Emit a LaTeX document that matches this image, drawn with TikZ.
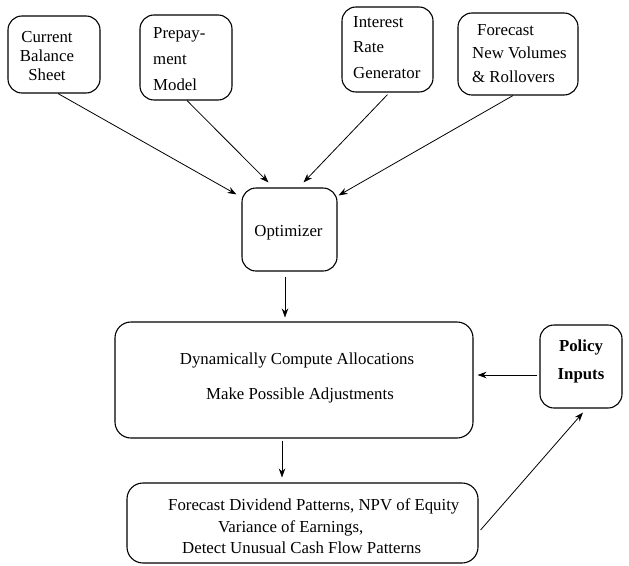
\documentclass[tikz,border=0pt]{standalone}
\usepackage{fontspec}
\setmainfont{LiberationSerif}[Extension=.ttf, UprightFont=*-Regular, BoldFont=*-Bold, ItalicFont=*-Italic, BoldItalicFont=*-BoldItalic]
\usetikzlibrary{arrows.meta}
\begin{document}
\begin{tikzpicture}[x=1pt,y=-1pt,
  box/.style={draw, line width=1.1pt, rounded corners=14pt, inner sep=0pt, shape=rectangle},
  txt/.style={inner sep=0pt, font=\rmfamily\fontsize{16.8}{20}\selectfont},
  arr/.style={line width=0.8pt, -{Stealth[length=9pt,width=6.5pt]}}
]
\useasboundingbox (0,0) rectangle (629,565);

% boxes
\node[box, minimum width=92pt, minimum height=77pt]  (cbs)  at (54,54.5) {};
\node[box, minimum width=92pt, minimum height=85pt]  (ppm)  at (186,57.5) {};
\node[box, minimum width=91pt, minimum height=85pt]  (irg)  at (387.5,49.5) {};
\node[box, minimum width=120pt, minimum height=82pt] (fnv)  at (518,54) {};
\node[box, minimum width=95pt, minimum height=83pt]  (opt)  at (289.5,229.5) {};
\node[box, minimum width=358pt, minimum height=116pt, rounded corners=16pt] (main) at (294,380) {};
\node[box, minimum width=82pt, minimum height=83pt]  (pol)  at (581,366.5) {};
\node[box, minimum width=351pt, minimum height=80pt, rounded corners=16pt] (out) at (302.5,523) {};

% texts
\node[txt, align=center, font=\rmfamily\fontsize{16.8}{19}\selectfont] (cbst) at (47,56) {Current\\Balance\\Sheet};
\node[txt, align=left, anchor=west, font=\rmfamily\fontsize{16.8}{26}\selectfont] (ppmt) at (153,59) {Prepay-\\ment\\Model};
\node[txt, align=left, anchor=west, font=\rmfamily\fontsize{16.8}{25.5}\selectfont] (irgt) at (353,47.5) {Interest\\Rate\\Generator};
\node[txt, align=left, anchor=west, font=\rmfamily\fontsize{16.8}{23.5}\selectfont] (fnvt) at (472,53.5) {\hspace*{5pt}Forecast\\New Volumes\\\& Rollovers};
\node[txt] (optt) at (288.5,233) {Optimizer};
\node[txt, align=center, font=\rmfamily\fontsize{16.8}{35}\selectfont] (maint) at (297,377.5) {Dynamically Compute Allocations\\\hspace*{6pt}Make Possible Adjustments};
\node[txt, align=center, font=\rmfamily\bfseries\fontsize{16.8}{28}\selectfont] (polt) at (581,361) {Policy\\Inputs};
\node[txt, align=left, anchor=west, font=\rmfamily\fontsize{16.8}{21.5}\selectfont] (outt) at (168,526.5) {Forecast Dividend Patterns, NPV of Equity\\\hspace*{50pt}Variance of Earnings,\\\hspace*{14pt}Detect Unusual Cash Flow Patterns};

% connectors
\draw[arr] ([xshift=4pt]cbs.south) -- ([xshift=-5pt,yshift=-7pt]opt.north west);
\draw[arr] ([xshift=1pt]ppm.south) -- ([xshift=-21pt,yshift=5pt]opt.north);
\draw[arr] ([yshift=-2pt]irg.south) -- ([xshift=14pt,yshift=5pt]opt.north);
\draw[arr] ([xshift=-5pt]fnv.south) -- ([xshift=1pt,yshift=-8pt]opt.north east);
\draw[arr] ([xshift=-4.5pt,yshift=-5pt]opt.south) -- ([xshift=-9pt,yshift=4pt]main.north);
\draw[arr] ([xshift=-12pt,yshift=-2pt]main.south) -- ([xshift=-20.5pt,yshift=5pt]out.north);
\draw[arr] ([xshift=-2pt,yshift=-8.5pt]pol.west) -- ([xshift=4pt,yshift=5pt]main.east);
\draw[arr] ([xshift=2pt,yshift=-7pt]out.east) -- ([xshift=2pt,yshift=-4pt]pol.south);
\end{tikzpicture}
\end{document}
